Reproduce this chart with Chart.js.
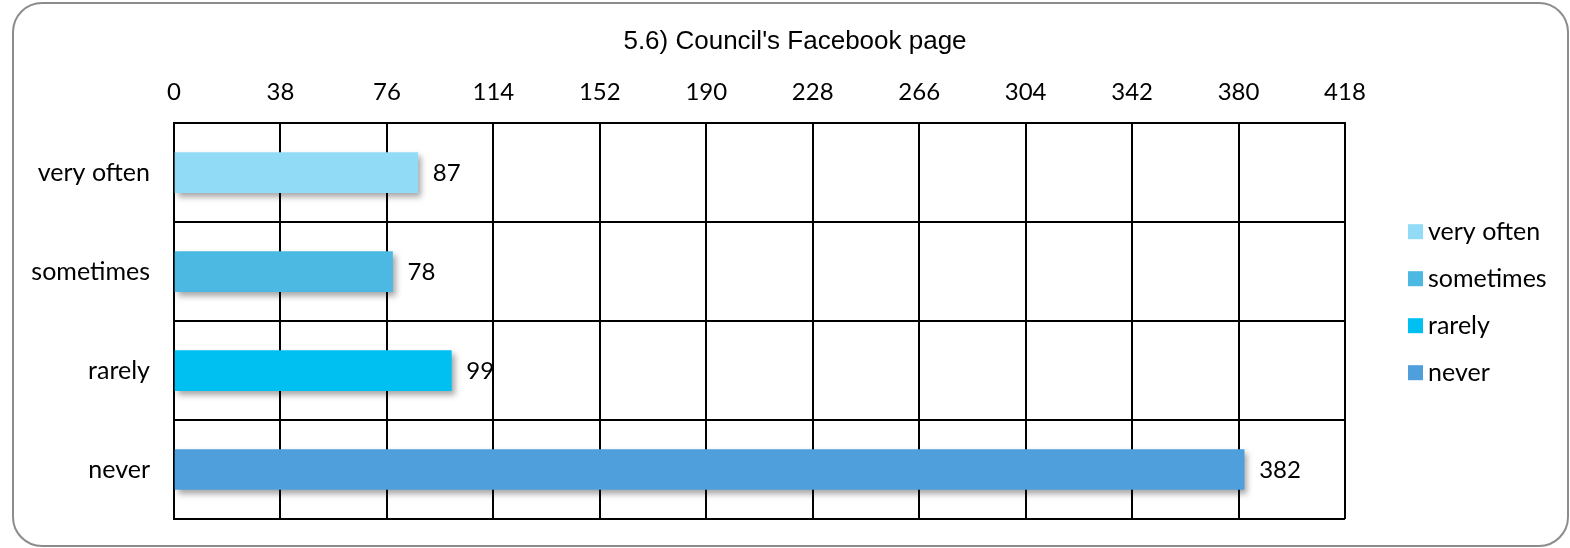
<!DOCTYPE html>
<html>
<head>
<meta charset="utf-8">
<script src="https://cdn.jsdelivr.net/npm/chart.js@4.4.1/dist/chart.umd.min.js"></script>
<style>
  body { margin: 0; background: #fff; }
  #wrap { position: relative; width: 1570px; height: 548px; }
  #frame {
    position: absolute; left: 12px; top: 2px; width: 1553px; height: 541px;
    border: 2px solid #8c8c8c; border-radius: 30px; pointer-events: none;
  }
  canvas { position: absolute; left: 0; top: 0; }
</style>
</head>
<body>
<div id="wrap">
  <canvas id="facebook-chart" width="1570" height="548"></canvas>
  <div id="frame"></div>
</div>
<script>
var categories = ['very often', 'sometimes', 'rarely', 'never'];
var counts = [87, 78, 99, 382];
var barColours = ['#92DBF6', '#4BB9E2', '#00C0F2', '#4E9FDC'];
var tickMax = 418;
var tickStep = 38;

var facebookChart;

// shadow under the bars, then value labels and legend drawn without it
var barShadow = {
    id: 'barShadow',
    beforeDatasetsDraw: function (chart) {
        var ctx = chart.ctx;
        ctx.save();
        ctx.shadowColor = 'rgba(0,0,0,0.35)';
        ctx.shadowBlur = 6;
        ctx.shadowOffsetX = 3;
        ctx.shadowOffsetY = 4;
    },
    afterDatasetsDraw: function (chart) {
        var ctx = chart.ctx;
        ctx.restore();
        var meta = chart.getDatasetMeta(0);
        ctx.save();
        ctx.fillStyle = '#000';
        ctx.font = '24px Lato';
        ctx.textAlign = 'left';
        ctx.textBaseline = 'middle';
        meta.data.forEach(function (bar, i) {
            ctx.fillText(counts[i], bar.x + 15, bar.y + 1);
        });
        ctx.restore();
    },
    afterDraw: function (chart) {
        var ctx = chart.ctx;
        var area = chart.chartArea;
        var x = area.right + 63;
        ctx.save();
        ctx.font = '25px Lato';
        ctx.textAlign = 'left';
        ctx.textBaseline = 'middle';
        categories.forEach(function (c, i) {
            var y = area.top + 108 + i * 47;
            ctx.fillStyle = barColours[i];
            ctx.fillRect(x, y - 7, 15, 15);
            ctx.fillStyle = '#000';
            ctx.fillText(c, x + 20, y + 1);
        });
        ctx.restore();
    }
};

function fixWidth(w) {
    return function (scale) {
        scale.width = w;
        scale.paddingTop = 0;
        scale.paddingBottom = 0;
    };
}

function createFacebookChart() {
    var ctx = document.getElementById('facebook-chart').getContext('2d');

    facebookChart = new Chart(ctx, {
        type: 'bar',
        data: {
            labels: categories,
            datasets: [
                {
                    data: counts,
                    backgroundColor: barColours,
                    borderWidth: 0,
                    barThickness: 40
                }
            ]
        },
        options: {
            indexAxis: 'y',
            responsive: false,
            animation: false,
            layout: {
                padding: { left: 20, right: 0, top: 0, bottom: 29 }
            },
            plugins: {
                title: {
                    display: true,
                    text: "5.6) Council's Facebook page",
                    color: '#000',
                    font: { family: 'Liberation Sans', size: 26, weight: 'normal' },
                    padding: { top: 26, bottom: 18 }
                },
                legend: { display: false },
                tooltip: { enabled: false }
            },
            scales: {
                x: {
                    position: 'top',
                    min: 0,
                    max: tickMax,
                    ticks: {
                        stepSize: tickStep,
                        color: '#000',
                        font: { family: 'Lato', size: 24 },
                        padding: 17
                    },
                    grid: { color: '#000', lineWidth: 2, drawTicks: false },
                    border: { color: '#000', width: 2 },
                    afterFit: function (scale) { scale.height = 48; }
                },
                y: {
                    ticks: {
                        color: '#000',
                        font: { family: 'Lato', size: 25 },
                        padding: 24
                    },
                    grid: { color: '#000', lineWidth: 2, drawTicks: false, offset: true },
                    border: { color: '#000', width: 2 },
                    afterFit: fixWidth(154)
                },
                // empty axis that keeps room for the legend on the right
                legendSpace: {
                    type: 'category',
                    axis: 'y',
                    position: 'right',
                    ticks: { display: false },
                    grid: { display: false },
                    border: { display: false },
                    afterFit: fixWidth(225)
                }
            }
        },
        plugins: [barShadow]
    });
}

createFacebookChart();
</script>
</body>
</html>
